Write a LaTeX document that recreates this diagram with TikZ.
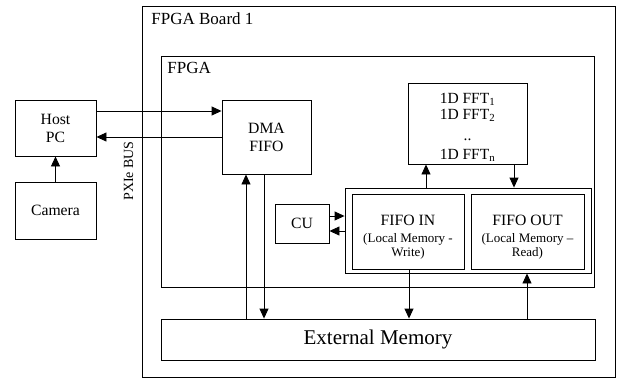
\documentclass[tikz,border=0pt]{standalone}
\usepackage{fontspec}
\setmainfont{Liberation Serif}
\usetikzlibrary{arrows.meta}
\begin{document}
\begin{tikzpicture}[x=1pt,y=-1pt,
  line width=0.9pt,
  box/.style={draw, inner sep=0pt, align=center, font=\fontsize{15.7}{18}\selectfont},
  arr/.style={-{Triangle[length=10pt,width=9pt]}},
  fifolbl/.style={inner sep=0pt, align=center, anchor=base, font=\fontsize{13}{14}\selectfont}]
\useasboundingbox (0,0) rectangle (623,378);
% containers
\node[draw, inner sep=0pt, minimum width=473pt, minimum height=371pt] (board) at (378.5,191.5) {};
\node[anchor=base west, inner sep=0pt, font=\fontsize{17}{20}\selectfont] (boardlbl) at (151,24) {FPGA Board 1};
\node[draw, inner sep=0pt, minimum width=433pt, minimum height=231pt] (fpga) at (377.5,171.5) {};
\node[anchor=base west, inner sep=0pt, font=\fontsize{17}{20}\selectfont] (fpgalbl) at (167,73) {FPGA};
% boxes
\node[box, minimum width=81pt, minimum height=56pt] (host) at (55.5,128) {Host\\PC};
\node[box, minimum width=81pt, minimum height=57pt] (cam) at (55.5,210.5) {Camera};
\node[box, minimum width=89pt, minimum height=74pt] (dma) at (266.5,137) {DMA\\FIFO};
\node[box, minimum width=119pt, minimum height=81pt] (fft) at (467.5,123.5) {};
\node[inner sep=0pt, align=center, anchor=base, font=\fontsize{15.5}{16}\selectfont] (fftlbl) at (467.5,159)
  {1D FFT\textsubscript{1}\\1D FFT\textsubscript{2}\\[5pt]..\\[3pt]1D FFT\textsubscript{n}};
\node[box, minimum width=246pt, minimum height=85pt] (grp) at (468,230.5) {};
\node[box, minimum width=112pt, minimum height=75pt] (fin) at (408,231.5) {};
\node[fifolbl] (finlbl) at (408,256)
  {{\fontsize{15.7}{17}\selectfont FIFO IN}\\[3pt](Local Memory -\\Write)};
\node[box, minimum width=113pt, minimum height=75pt] (fout) at (527.5,231.5) {};
\node[fifolbl] (foutlbl) at (527.5,256)
  {{\fontsize{15.7}{17}\selectfont FIFO OUT}\\[3pt](Local Memory --\\Read)};
\node[box, minimum width=54pt, minimum height=39pt] (cu) at (302,223.5) {CU};
\node[box, minimum width=434pt, minimum height=41pt, font=\fontsize{21}{24}\selectfont] (ext) at (378,339.5) {External Memory};
\node[rotate=90, inner sep=0pt, font=\fontsize{14}{16}\selectfont] (pxie) at (128.5,171) {PXIe BUS};
% connectors
\draw[arr] (host.east |- 0,111) -- (dma.west |- 0,111);
\draw[arr] (dma.west |- 0,137) -- (host.east |- 0,137);
\draw[arr] (cam.north) -- (host.south);
\draw[arr] (ext.north -| 246,0) -- (dma.south -| 246,0);
\draw[arr] (dma.south -| 264,0) -- (ext.north -| 264,0);
\draw[arr] (grp.north -| 426,0) -- (fft.south -| 426,0);
\draw[arr] (fft.south -| 514,0) -- (grp.north -| 514,0);
\draw[arr] (cu.east |- 0,216) -- (grp.west |- 0,216);
\draw[arr] (grp.west |- 0,231) -- (cu.east |- 0,231);
\draw[arr] (fin.south -| 409,0) -- (ext.north -| 409,0);
\draw[arr] (ext.north -| 527,0) -- (grp.south -| 527,0);
\end{tikzpicture}
\end{document}
